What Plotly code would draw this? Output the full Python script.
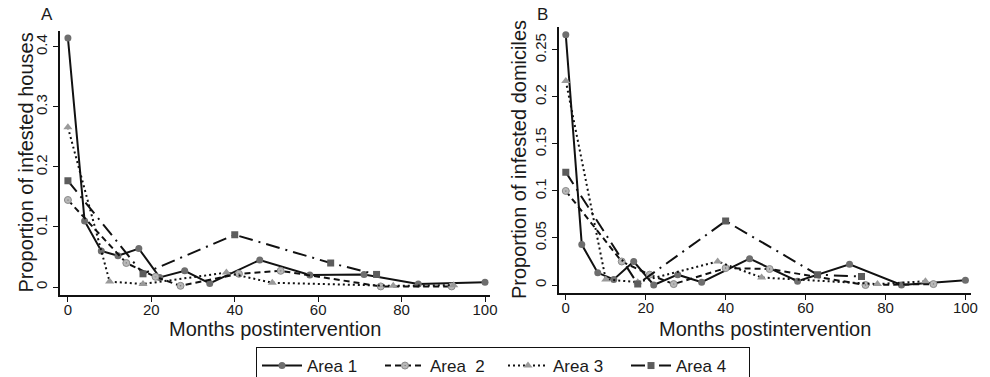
import plotly.graph_objects as go

# ---------------- data ----------------
# Panel A: proportion of infested houses
a1_x = [0, 4, 8, 12, 17, 22, 28, 34, 46, 58, 71, 84, 100]
a1_y = [0.415, 0.11, 0.06, 0.052, 0.064, 0.016, 0.027, 0.006, 0.045, 0.02, 0.021, 0.005, 0.008]
a2_x = [0, 14, 21, 27, 41, 51, 75, 92]
a2_y = [0.145, 0.04, 0.017, 0.002, 0.022, 0.027, 0.001, 0.001]
a3_x = [0, 10, 18, 38, 49, 78, 92.5]
a3_y = [0.266, 0.009, 0.005, 0.024, 0.007, 0.002, 0.003]
a4_x = [0, 18, 40, 63, 74]
a4_y = [0.177, 0.022, 0.087, 0.04, 0.021]

# Panel B: proportion of infested domiciles
b1_x = [0, 4, 8, 12, 17, 22, 28, 34, 46, 58, 71, 84, 100]
b1_y = [0.266, 0.043, 0.013, 0.006, 0.025, 0.0, 0.011, 0.003, 0.028, 0.004, 0.022, 0.0, 0.005]
b2_x = [0, 14, 21, 27, 40, 51, 75, 92]
b2_y = [0.1, 0.025, 0.011, 0.001, 0.018, 0.017, 0.0, 0.001]
b3_x = [0, 10, 18, 38, 49, 78, 90]
b3_y = [0.217, 0.006, 0.003, 0.025, 0.008, 0.001, 0.004]
b4_x = [0, 18, 40, 63, 74]
b4_y = [0.12, 0.001, 0.068, 0.011, 0.009]

series_names = ["Area 1", "Area  2", "Area 3", "Area 4"]
x_ticks = [0, 20, 40, 60, 80, 100]
ya_ticks = [0, 0.1, 0.2, 0.3, 0.4]
ya_labels = ["0", "0.1", "0.2", "0.3", "0.4"]
yb_ticks = [0, 0.05, 0.1, 0.15, 0.2, 0.25]
yb_labels = ["0", "0.05", "0.1", "0.15", "0.2", "0.25"]
x_title = "Months postintervention"
ya_title = "Proportion of infested houses"
yb_title = "Proportion of infested domiciles"

# ---------------- styles ----------------
FONT = "Liberation Sans, Arial, sans-serif"
TXT = "#1a1a1a"
W, H = 990, 377
styles = [
    dict(dash="solid", symbol="circle", mcolor="#6e6e6e", msize=7),
    dict(dash="6px,4px", symbol="circle-dot", mcolor="#b8b8b8", msize=7),
    dict(dash="2px,3px", symbol="triangle-up", mcolor="#9a9a9a", msize=8),
    dict(dash="14px,6px,2px,6px", symbol="square", mcolor="#5c5c5c", msize=7),
]

fig = go.Figure()

panelA = [(a1_x, a1_y), (a2_x, a2_y), (a3_x, a3_y), (a4_x, a4_y)]
panelB = [(b1_x, b1_y), (b2_x, b2_y), (b3_x, b3_y), (b4_x, b4_y)]

for panel, (xa, ya), show in [(panelA, ("x", "y"), True), (panelB, ("x2", "y2"), False)]:
    for i, (xs, ys) in enumerate(panel):
        st = styles[i]
        fig.add_trace(go.Scatter(
            x=xs, y=ys, xaxis=xa, yaxis=ya,
            mode="lines+markers",
            name=series_names[i],
            showlegend=show,
            line=dict(color="#111111", width=2, dash=st["dash"]),
            marker=dict(symbol=st["symbol"], color=st["mcolor"], size=st["msize"],
                        line=dict(width=1, color="#8a8a8a") if i == 1 else dict(width=0)),
        ))

axis_common = dict(
    showgrid=False, zeroline=False, showline=True, linecolor="#111111", linewidth=1.5,
    ticks="outside", ticklen=5, tickcolor="#111111", tickwidth=1, automargin=False,
    tickfont=dict(family=FONT, size=15, color=TXT),
)

xa_dom = [60 / W, 490 / W]
xb_dom = [559 / W, 971 / W]
ya_dom = [1 - 295 / H, 1 - 30.7 / H]
yb_dom = [1 - 293.3 / H, 1 - 27.3 / H]


def ann(text, x, y, size, angle=0):
    return dict(text=text, x=x / W, y=1 - y / H, xref="paper", yref="paper",
                xanchor="center", yanchor="middle", showarrow=False, textangle=angle,
                font=dict(family=FONT, size=size, color=TXT))


fig.update_layout(
    width=W, height=H,
    margin=dict(l=0, r=0, t=0, b=0, autoexpand=False),
    paper_bgcolor="white", plot_bgcolor="white",
    font=dict(family=FONT, color=TXT),
    xaxis=dict(domain=xa_dom, range=[-1.9, 101.2], tickvals=x_ticks, ticklabelstandoff=-5,
               anchor="y", **axis_common),
    yaxis=dict(domain=ya_dom, range=[-0.0133, 0.427], tickvals=ya_ticks, ticktext=ya_labels,
               tickangle=-90, anchor="x", **axis_common),
    xaxis2=dict(domain=xb_dom, range=[-1.7, 101.4], tickvals=x_ticks, ticklabelstandoff=-5,
                anchor="y2", **axis_common),
    yaxis2=dict(domain=yb_dom, range=[-0.0088, 0.274], tickvals=yb_ticks, ticktext=yb_labels,
                tickangle=-90, anchor="x2", **axis_common),
    legend=dict(orientation="h", x=256 / W, xanchor="left", y=1 - 347 / H, yanchor="top",
                bordercolor="#111111", borderwidth=1, bgcolor="white",
                font=dict(family=FONT, size=17, color=TXT), entrywidth=68, itemwidth=40),
    annotations=[
        ann("A", 47, 15, 17),
        ann("B", 542, 15, 17),
        ann(x_title, (xa_dom[0] + xa_dom[1]) / 2 * W, 329, 20),
        ann(x_title, (xb_dom[0] + xb_dom[1]) / 2 * W, 329, 20),
        ann(ya_title, 25.5, 163, 20, -90),
        ann(yb_title, 519, 160, 20, -90),
    ],
)

fig.write_html("out.html", config={"displayModeBar": False},
               post_script="document.body.style.margin='0px';document.body.style.padding='0px';")
